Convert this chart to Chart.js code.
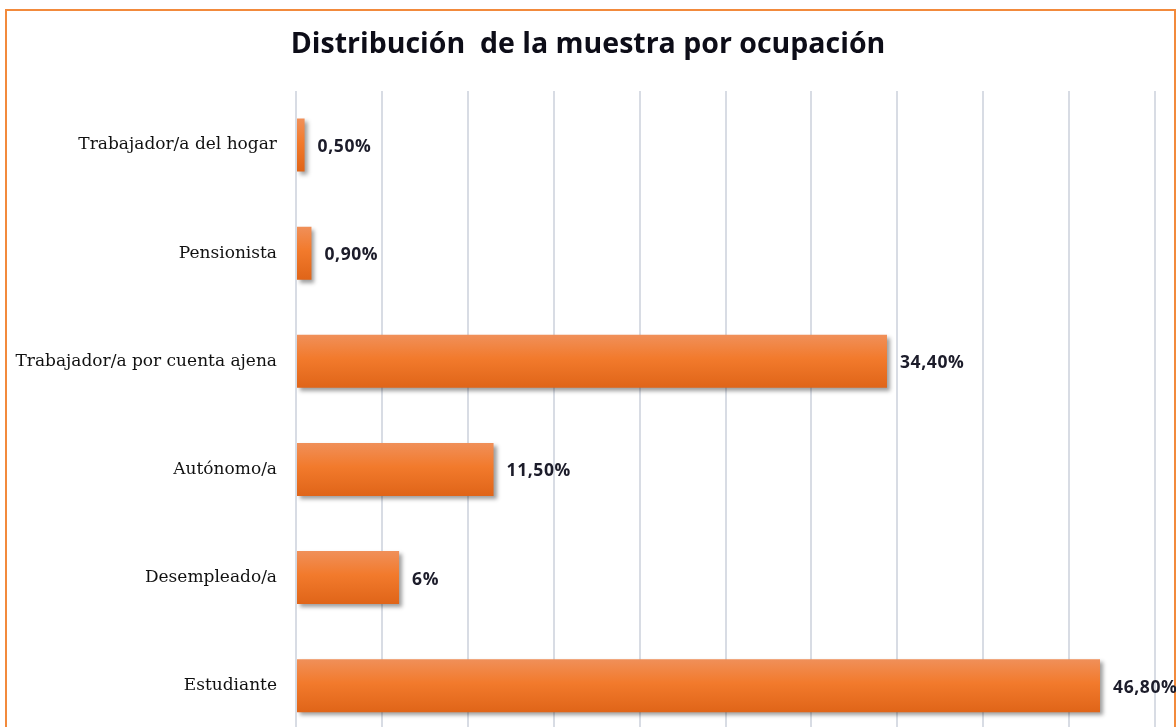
<!DOCTYPE html>
<html>
<head>
<meta charset="utf-8">
<script src="https://cdn.jsdelivr.net/npm/chart.js@4"></script>
<style>
  html, body { margin:0; padding:0; background:#fff; overflow:hidden; }
  #wrap { position:relative; width:1176px; height:727px; overflow:hidden; }
  #frame { position:absolute; left:5px; top:9px; width:1167px; height:800px; border:2px solid #F28A3C; }
  #c { position:absolute; left:0; top:0; }
</style>
</head>
<body>
<div id="wrap">
  <div id="frame"></div>
  <canvas id="c" width="1176" height="769"></canvas>
</div>
<script>
let titulo = "Distribución  de la muestra por ocupación";
let categorias = ["Trabajador/a del hogar","Pensionista","Trabajador/a por cuenta ajena","Autónomo/a","Desempleado/a","Estudiante"];
let valores = [0.5, 0.9, 34.4, 11.5, 6, 46.8];
let ejeMax = 50;
let ejePaso = 5;

function fmt(v){
    if (Number.isInteger(v)) return v + "%";
    return v.toFixed(2).replace(".", ",") + "%";
}

// título, sombra bajo las barras y etiquetas
let extras = {
    id:"extras",
    beforeDatasetsDraw(chart){
        let c = chart.ctx;
        c.save();
        c.shadowColor = "rgba(0,0,0,0.38)";
        c.shadowBlur = 4;
        c.shadowOffsetX = 3;
        c.shadowOffsetY = 3;
    },
    afterDatasetsDraw(chart){
        chart.ctx.restore();
        let c = chart.ctx;
        let meta = chart.getDatasetMeta(0);
        c.save();
        c.font = "bold 17.5px 'Open Sans'";
        c.letterSpacing = "0.6px";
        c.fillStyle = "#1c1c2a";
        c.textBaseline = "middle";
        c.textAlign = "left";
        meta.data.forEach((bar,i)=>{
            c.fillText(fmt(valores[i]), bar.x + 13, bar.y + 2);
        });
        c.restore();
    },
    afterDraw(chart){
        let c = chart.ctx;
        c.save();
        c.font = "bold 28.5px 'Open Sans'";
        c.fillStyle = "#0d0d18";
        c.textAlign = "center";
        c.textBaseline = "middle";
        c.fillText(titulo, chart.width/2, 45);
        c.restore();
    }
};

let ctx = document.getElementById("c").getContext("2d");
let chart = new Chart(ctx,{
    type:"bar",
    data:{
        labels:categorias,
        datasets:[{
            data:valores,
            backgroundColor:(cx)=>{
                let ch = cx.chart;
                if (!ch.scales || !ch.scales.y) return "#F07A2A";
                let y = ch.scales.y.getPixelForValue(cx.dataIndex);
                if (!isFinite(y)) return "#F07A2A";
                let g = ch.ctx.createLinearGradient(0, y-27, 0, y+27);
                g.addColorStop(0, "#F0905A");
                g.addColorStop(0.45, "#F27A2C");
                g.addColorStop(1, "#DF6418");
                return g;
            },
            borderWidth:0,
            categoryPercentage:1,
            barPercentage:0.49
        }]
    },
    options:{
        indexAxis:"y",
        responsive:false,
        animation:false,
        layout:{padding:{left:0,right:21,top:91,bottom:21}},
        plugins:{
            legend:{display:false},
            tooltip:{enabled:false},
            title:{display:false}
        },
        scales:{
            x:{
                min:0,max:ejeMax,
                ticks:{display:false,stepSize:ejePaso},
                grid:{color:"#D8DCE4",lineWidth:2,drawTicks:false},
                border:{display:false}
            },
            y:{
                ticks:{color:"#111",font:{family:"DejaVu Serif",size:17},padding:19},
                grid:{display:false,drawTicks:false},
                border:{display:false},
                afterFit(s){ s.width = 296; }
            }
        }
    },
    plugins:[extras]
});
</script>
</body>
</html>
